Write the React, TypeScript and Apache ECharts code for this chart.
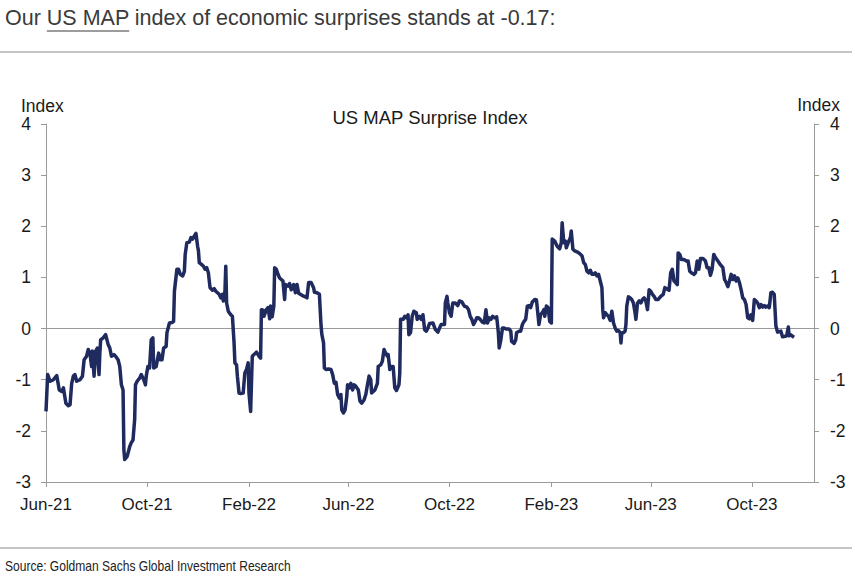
import React, { useEffect, useRef } from "react";
import * as echarts from "echarts";

// ---------- data ----------
const START_UTC = Date.UTC(2021, 5, 1); // 1 Jun 2021
const DAY_MS = 86400000;
const AXIS_END_DAY = 927; // mid-Dec 2023

const TICK_MONTHS: [number, number][] = [
  [2021, 5], [2021, 9], [2022, 1], [2022, 5],
  [2022, 9], [2023, 1], [2023, 5], [2023, 9],
];
const MONTH_NAMES = ["Jan", "Feb", "Mar", "Apr", "May", "Jun", "Jul", "Aug", "Sep", "Oct", "Nov", "Dec"];
const Y_MIN = -3;
const Y_MAX = 4;
const Y_STEP = 1;

// [days since 1 Jun 2021, index value]
const surprise2021: [number, number][] = [
  [0, -1.62], [2, -0.9], [5, -1.03], [9, -1.0], [13, -0.92], [16, -1.2], [19, -1.23], [21, -1.16],
  [24, -1.46], [27, -1.51], [29, -1.49], [31, -1.07], [33, -0.93], [35, -0.9], [37, -1.03], [41, -1.0],
  [44, -0.93], [46, -0.61], [49, -0.54], [51, -0.41], [53, -0.48], [55, -0.74], [56, -0.44], [58, -0.93],
  [60, -0.44], [62, -0.38], [64, -0.9], [65, -0.48], [66, -0.22], [69, -0.18], [72, -0.12], [75, -0.31],
  [77, -0.38], [79, -0.54], [82, -0.51], [84, -0.54], [87, -0.61], [89, -0.74], [91, -1.1], [93, -1.2],
  [94, -2.37], [95, -2.56], [98, -2.5], [101, -2.31], [103, -2.23], [105, -2.18], [107, -1.78], [108, -1.1],
  [110, -1.03], [113, -0.97], [115, -0.9], [118, -1.0], [120, -1.1], [121, -0.93], [123, -0.74], [125, -0.77],
  [127, -0.22], [129, -0.18], [130, -0.77], [133, -0.74], [136, -0.48], [138, -0.61], [140, -0.61], [142, -0.38],
  [145, -0.35], [146, -0.08], [149, 0.11], [152, 0.12], [154, 0.14], [155, 0.73], [158, 1.16], [160, 1.16],
  [162, 1.06], [165, 1.03], [167, 1.12], [168, 1.45], [170, 1.68], [173, 1.69], [175, 1.78], [177, 1.75],
  [179, 1.81], [181, 1.86], [183, 1.61], [184, 1.52], [185, 1.29], [188, 1.25], [190, 1.22], [192, 1.16],
  [194, 1.19], [196, 1.09], [198, 0.8], [201, 0.75], [203, 0.78], [205, 0.73], [207, 0.7], [209, 0.67],
  [211, 0.6], [213, 0.67],
];
const surprise2022: [number, number][] = [
  [214, 0.54], [216, 0.73], [217, 1.22], [218, 0.5], [220, 0.34], [223, 0.27], [225, 0.24], [227, -0.28],
  [228, -0.67], [230, -0.71], [231, -0.93], [233, -1.26], [235, -1.27], [238, -1.26], [240, -0.87], [242, -0.8],
  [244, -0.67], [245, -1.26], [247, -1.62], [248, -1.07], [249, -0.54], [251, -0.51], [254, -0.46], [257, -0.54],
  [259, -0.58], [260, 0.37], [262, 0.36], [263, 0.24], [266, 0.37], [268, 0.41], [270, 0.19], [271, 0.44],
  [273, 0.23], [275, 0.44], [276, 1.19], [278, 1.16], [280, 1.06], [282, 0.99], [284, 0.96], [286, 0.93],
  [288, 0.57], [289, 0.86], [292, 0.83], [294, 0.88], [296, 0.76], [299, 0.86], [301, 0.7], [303, 0.86],
  [305, 0.69], [309, 0.65], [313, 0.62], [315, 0.6], [317, 0.9], [320, 0.9], [323, 0.8], [324, 0.71],
  [327, 0.7], [330, 0.67], [332, 0.05], [333, -0.12], [335, -0.28], [336, -0.77], [338, -0.8], [341, -0.79],
  [344, -0.8], [346, -0.9], [348, -1.07], [350, -1.05], [352, -1.29], [354, -1.36], [356, -1.29], [357, -1.59],
  [359, -1.65], [361, -1.59], [363, -1.33], [364, -1.1], [366, -1.16], [368, -1.07], [370, -1.2], [372, -1.1],
  [374, -1.13], [377, -1.2], [379, -1.42], [381, -1.46], [384, -1.39], [386, -1.29], [388, -1.1], [390, -0.93],
  [392, -1.0], [393, -1.26], [395, -1.23], [397, -1.2], [400, -1.07], [401, -0.74], [404, -0.71], [406, -0.64],
  [408, -0.41], [410, -0.48], [412, -0.54], [413, -0.51], [415, -0.8], [417, -0.74], [419, -0.74], [421, -1.16],
  [423, -1.21], [426, -1.1], [427, -0.87], [428, 0.18], [431, 0.18], [433, 0.24], [435, 0.21], [437, 0.27],
  [438, -0.12], [440, -0.08], [442, 0.24], [444, 0.34], [447, 0.31], [448, 0.18], [451, 0.24], [453, 0.18],
  [455, 0.27], [457, -0.02], [459, -0.05], [461, 0.01], [463, 0.1], [467, 0.11], [470, -0.02], [473, -0.07],
  [475, 0.01], [477, 0.08], [481, 0.08], [482, 0.5], [484, 0.63], [485, 0.5], [487, 0.31], [489, 0.24],
  [491, 0.5], [494, 0.5], [497, 0.45], [499, 0.54], [502, 0.52], [505, 0.44], [508, 0.42], [510, 0.37],
  [512, 0.24], [514, 0.18], [516, 0.08], [518, 0.14], [520, 0.21], [522, 0.21], [524, 0.18], [527, 0.12],
  [529, 0.11], [531, 0.37], [533, 0.11], [535, 0.21], [537, 0.18], [539, 0.24], [541, 0.21], [544, 0.23],
  [546, -0.08], [547, -0.38], [549, -0.22], [551, 0.01], [553, 0.01], [556, -0.01], [559, -0.01], [561, -0.05],
  [562, -0.25], [565, -0.29], [567, -0.22], [568, -0.08], [571, -0.05], [573, -0.05], [575, 0.08], [577, 0.14],
];
const surprise2023: [number, number][] = [
  [579, 0.18], [581, 0.44], [583, 0.45], [585, 0.41], [587, 0.52], [590, 0.57], [592, 0.56], [594, 0.24],
  [595, 0.08], [597, 0.27], [599, 0.31], [601, 0.37], [602, 0.24], [604, 0.44], [606, 0.41], [608, 0.14],
  [610, 0.11], [611, 1.75], [614, 1.71], [617, 1.61], [620, 1.56], [622, 1.68], [623, 2.07], [625, 1.68],
  [627, 1.71], [628, 1.58], [631, 1.71], [633, 1.78], [634, 1.91], [636, 1.55], [638, 1.52], [641, 1.5],
  [644, 1.47], [647, 1.42], [649, 1.29], [651, 1.25], [653, 1.12], [655, 1.09], [657, 1.14], [659, 1.06],
  [661, 1.06], [663, 1.09], [665, 1.03], [667, 1.06], [669, 0.93], [671, 0.8], [672, 0.37], [673, 0.21],
  [675, 0.31], [677, 0.27], [679, 0.24], [681, 0.16], [683, 0.34], [685, 0.11], [687, 0.01], [689, -0.05],
  [691, -0.04], [693, -0.08], [694, -0.28], [695, -0.08], [697, -0.08], [699, -0.05], [700, 0.08], [701, 0.44],
  [703, 0.62], [705, 0.6], [707, 0.57], [709, 0.5], [711, 0.31], [712, 0.18], [714, 0.5], [716, 0.54],
  [718, 0.5], [720, 0.57], [722, 0.6], [724, 0.54], [726, 0.37], [728, 0.76], [730, 0.73], [732, 0.67],
  [734, 0.63], [736, 0.57], [739, 0.57], [742, 0.63], [745, 0.67], [747, 0.8], [749, 0.78], [752, 0.75],
  [754, 1.09], [756, 1.16], [758, 0.93], [760, 0.9], [762, 0.86], [763, 1.48], [765, 1.45], [767, 1.35],
  [770, 1.35], [773, 1.32], [775, 1.32], [777, 1.12], [779, 1.09], [782, 1.06], [784, 1.09], [786, 1.32],
  [788, 1.16], [790, 1.37], [793, 1.37], [796, 1.32], [798, 1.19], [800, 1.19], [802, 1.04], [804, 1.16],
  [806, 1.45], [808, 1.39], [811, 1.32], [814, 1.25], [817, 1.19], [819, 0.96], [821, 0.9], [823, 0.82],
  [825, 0.93], [827, 1.06], [829, 0.96], [831, 1.03], [833, 0.93], [835, 0.99], [837, 0.9], [839, 0.76],
  [841, 0.6], [843, 0.57], [845, 0.47], [847, 0.21], [849, 0.19], [851, 0.27], [853, 0.16], [855, 0.57],
  [857, 0.54], [859, 0.5], [861, 0.41], [863, 0.47], [865, 0.42], [867, 0.45], [869, 0.42], [871, 0.44],
  [873, 0.41], [875, 0.7], [877, 0.71], [879, 0.67], [881, 0.05], [883, -0.07], [887, -0.05], [889, -0.16],
  [892, -0.15], [894, -0.14], [896, 0.03], [897, -0.14], [899, -0.12], [901, -0.15], [903, -0.17],
];

const TITLE_PRE = "Our ";
const TITLE_LINK = "US MAP";
const TITLE_POST = " index of economic surprises stands at -0.17:";
const CHART_TITLE = "US MAP Surprise Index";
const AXIS_NAME = "Index";
const SOURCE = "Source: Goldman Sachs Global Investment Research";

// ---------- component ----------
const FONT = '"Liberation Sans", Arial, Helvetica, sans-serif';

function measure(text: string, font: string): number {
  const c = document.createElement("canvas").getContext("2d");
  if (!c) return text.length * 10;
  c.font = font;
  return c.measureText(text).width;
}

export default function App() {
  const ref = useRef<HTMLDivElement>(null);

  useEffect(() => {
    if (!ref.current) return;
    const chart = echarts.init(ref.current, undefined, { renderer: "svg" });

    const toTime = (d: number) => START_UTC + d * DAY_MS;
    const seriesData = [...surprise2021, ...surprise2022, ...surprise2023].map(
      ([d, v]) => [toTime(d), v]
    );
    const tickValues = TICK_MONTHS.map(([y, m]) => Date.UTC(y, m, 1));
    const fmtDate = (v: number) => {
      const dt = new Date(v);
      return MONTH_NAMES[dt.getUTCMonth()] + "-" + String(dt.getUTCFullYear()).slice(2);
    };

    const titleFont = `21.5px ${FONT}`;
    const ulX1 = 5 + measure(TITLE_PRE, titleFont);
    const ulX2 = ulX1 + measure(TITLE_LINK, titleFont);

    const sourceFont = `14px ${FONT}`;
    const sourceScale = 286 / measure(SOURCE, sourceFont);

    const axisGray = "#9a9a9a";
    const labelColor = "#1a1a1a";

    chart.setOption({
      animation: false,
      grid: { left: 46, right: 38, top: 124, bottom: 103, containLabel: false },
      xAxis: {
        type: "value",
        min: toTime(0),
        max: toTime(AXIS_END_DAY),
        axisLine: { show: true, onZero: false, lineStyle: { color: axisGray, width: 1 } },
        axisTick: { show: true, length: 5, customValues: tickValues, lineStyle: { color: axisGray } },
        axisLabel: {
          customValues: tickValues,
          formatter: (v: number) => fmtDate(v),
          color: labelColor,
          fontSize: 17,
          fontFamily: FONT,
          margin: 14,
          showMinLabel: true,
          showMaxLabel: true,
        },
        splitLine: { show: false },
      },
      yAxis: [
        {
          type: "value",
          position: "left",
          min: Y_MIN,
          max: Y_MAX,
          interval: Y_STEP,
          axisLine: { show: true, lineStyle: { color: axisGray } },
          axisTick: { show: true, length: 5, lineStyle: { color: axisGray } },
          axisLabel: { color: labelColor, fontSize: 17.5, fontFamily: FONT, margin: 15 },
          splitLine: { show: false },
        },
        {
          type: "value",
          position: "right",
          min: Y_MIN,
          max: Y_MAX,
          interval: Y_STEP,
          axisLine: { show: true, lineStyle: { color: axisGray } },
          axisTick: { show: true, length: 5, lineStyle: { color: axisGray } },
          axisLabel: { color: labelColor, fontSize: 17.5, fontFamily: FONT, margin: 16 },
          splitLine: { show: false },
        },
      ],
      series: [
        {
          type: "line",
          name: CHART_TITLE,
          data: seriesData,
          showSymbol: false,
          symbol: "none",
          lineStyle: { color: "#1F2A5E", width: 3.5, join: "round" },
          z: 3,
          markLine: {
            silent: true,
            symbol: "none",
            label: { show: false },
            lineStyle: { color: axisGray, width: 1, type: "solid" },
            data: [{ yAxis: 0 }],
            z: 1,
          },
        },
      ],
      graphic: [
        {
          type: "text",
          style: { text: TITLE_PRE + TITLE_LINK + TITLE_POST, x: 5, y: 18, font: titleFont, fill: "#3a3a3a", textVerticalAlign: "middle" },
        },
        {
          type: "line",
          shape: { x1: ulX1, y1: 31, x2: ulX2, y2: 31 },
          style: { stroke: "#3a3a3a", lineWidth: 1 },
        },
        {
          type: "line",
          shape: { x1: 0, y1: 52, x2: 852, y2: 52 },
          style: { stroke: "#8c8c8c", lineWidth: 1.2 },
        },
        {
          type: "text",
          style: { text: AXIS_NAME, x: 21, y: 106, font: `17.5px ${FONT}`, fill: labelColor, textVerticalAlign: "middle" },
        },
        {
          type: "text",
          style: { text: AXIS_NAME, x: 840, y: 105, font: `17.5px ${FONT}`, fill: labelColor, textAlign: "right", textVerticalAlign: "middle" },
        },
        {
          type: "text",
          style: { text: CHART_TITLE, x: 430, y: 117, font: `18.5px ${FONT}`, fill: labelColor, textAlign: "center", textVerticalAlign: "middle" },
        },
        {
          type: "line",
          shape: { x1: 0, y1: 548, x2: 852, y2: 548 },
          style: { stroke: "#8c8c8c", lineWidth: 1.2 },
        },
        {
          type: "text",
          x: 5,
          y: 566,
          scaleX: sourceScale,
          style: { text: SOURCE, x: 0, y: 0, font: sourceFont, fill: "#222", textVerticalAlign: "middle" },
        },
      ],
    });

    return () => chart.dispose();
  }, []);

  return (
    <div
      ref={ref}
      style={{ position: "absolute", left: 0, top: 0, width: 852, height: 585, background: "#fff" }}
    />
  );
}
